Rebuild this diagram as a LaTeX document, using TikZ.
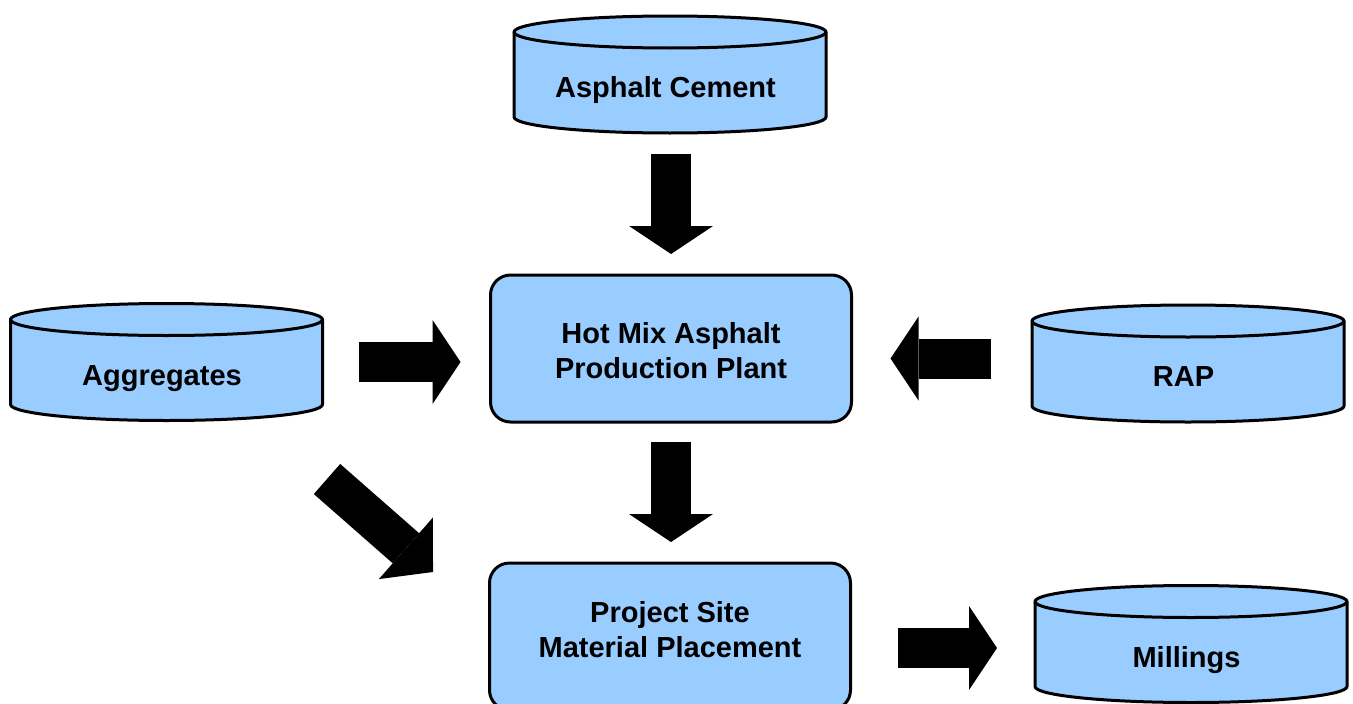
\documentclass[tikz,border=0pt]{standalone}
\usepackage{fontspec}
\setmainfont{Liberation Sans}
\usetikzlibrary{arrows.meta,calc}
\definecolor{fillblue}{HTML}{99CCFF}
\newcommand\drumnode[3]{%
  \node[cylbody] (#1) at (#2) {};
  \filldraw[fill=fillblue, draw=black, line width=3pt, line join=round]
    (#1.north west) -- (#1.south west)
    arc[start angle=180, end angle=360, x radius=156pt, y radius=16pt]
    -- (#1.north east)
    arc[start angle=0, end angle=180, x radius=156pt, y radius=16pt] -- cycle;
  \draw[line width=3pt] (#1.north west) arc[start angle=180, end angle=360, x radius=156pt, y radius=16pt];
  \node[lbl, text height=21pt, text depth=0pt] (#1-label) at ($(#1.center)+(-4.5,-12.5)$) {#3};
}
\begin{document}
\begin{tikzpicture}[x=1pt,y=1pt,
  line width=3pt,
  cylbody/.style={rectangle, minimum width=312pt, minimum height=85pt, inner sep=0pt, outer sep=0pt},
  lbl/.style={font=\bfseries\fontsize{29}{35}\selectfont, inner sep=0pt, align=center},
  procbox/.style={rectangle, rounded corners=20pt, draw=black, line width=3pt, fill=fillblue, minimum width=361pt, minimum height=147pt, inner sep=0pt, outer sep=0pt},
  blk/.style={line width=40pt, draw=black, -{Triangle[width=84pt,length=28pt,line width=0pt]}},
]
\useasboundingbox (0,0) rectangle (1353,-704);

\drumnode{ac}{670,-74.5}{Asphalt Cement}
\drumnode{agg}{166.5,-362}{Aggregates}
\drumnode{rap}{1188,-363.5}{RAP}
\drumnode{mill}{1191,-644}{Millings}

\node[procbox] (hma) at (671,-348.5) {};
\node[lbl] (hma-label) at ($(hma.center)+(0,-2.5)$) {Hot Mix Asphalt\\Production Plant};
\node[procbox] (proj) at (670,-636.5) {};
\node[lbl] (proj-label) at ($(proj.center)+(0,7)$) {Project Site\\Material Placement};

\draw[blk] ($(hma.north |- ac.south)+(0,-37)$) -- ($(hma.north)+(0,21)$);
\draw[blk] ($(hma.south)+(0,-20)$) -- ($(hma.south |- proj.north)+(0,21)$);
\draw[blk] ($(agg.east)+(36,0)$) -- ($(agg.east -| hma.west)+(-30,0)$);
\draw[blk] ($(rap.west)+(-41,5)$) -- ($(rap.west -| hma.east)+(39,5)$);
\draw[blk] ($(proj.east |- mill.west)+(47,-4)$) -- ($(mill.west)+(-38,-4)$);
\draw[blk, -{Triangle[width=82pt,length=36pt,line width=0pt]}] ($(agg.south)+(160.5,-74.5)$) -- ($(proj.west)+(-56.5,64.5)$);
\end{tikzpicture}
\end{document}
